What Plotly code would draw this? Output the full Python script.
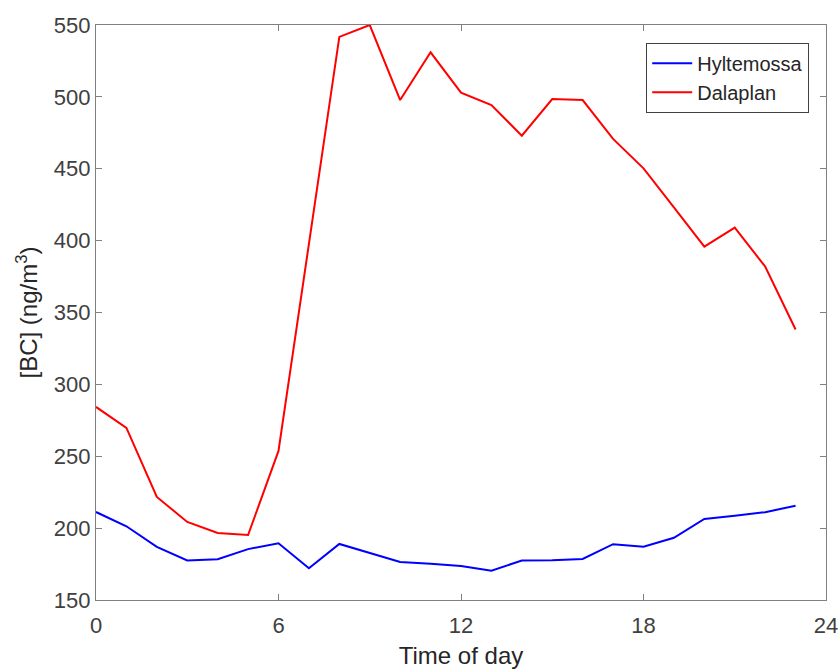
import plotly.graph_objects as go

hours = list(range(24))
hyltemossa = [211.2, 201.3, 187.0, 177.5, 178.3, 185.4, 189.5, 172.1, 189.0, 182.7,
              176.5, 175.2, 173.6, 170.3, 177.5, 177.6, 178.6, 188.8, 187.1, 193.3,
              206.4, 208.6, 211.1, 215.6]
dalaplan = [284.3, 269.7, 221.7, 204.3, 196.6, 195.2, 253.7, 398.0, 541.7, 550.0,
            497.8, 531.0, 503.0, 494.3, 473.0, 498.5, 497.8, 470.8, 450.3, 423.2,
            395.8, 409.0, 382.0, 338.2]

x_ticks = [0, 6, 12, 18, 24]
y_ticks = [150, 200, 250, 300, 350, 400, 450, 500, 550]

FONT = "Liberation Sans, Arial, sans-serif"

fig = go.Figure()
fig.add_trace(go.Scatter(x=hours, y=hyltemossa, mode="lines", name="Hyltemossa",
                         line=dict(color="#0000FF", width=2)))
fig.add_trace(go.Scatter(x=hours, y=dalaplan, mode="lines", name="Dalaplan",
                         line=dict(color="#FF0000", width=2)))

axis_common = dict(showline=True, linecolor="#808080", linewidth=1.3, mirror="ticks",
                   ticks="inside", ticklen=6, tickwidth=1, tickcolor="#808080",
                   showgrid=False, zeroline=False, automargin=False,
                   tickfont=dict(family=FONT, size=22, color="#404040"))

fig.update_xaxes(range=[0, 24], tickvals=x_ticks, ticklabelstandoff=5,
                 title=dict(text="Time of day", standoff=10,
                            font=dict(family=FONT, size=24, color="#262626")),
                 **axis_common)
fig.update_yaxes(range=[150, 550], tickvals=y_ticks,
                 title=dict(text="[BC] (ng/m<sup>3</sup>)", standoff=9,
                            font=dict(family=FONT, size=24, color="#262626")),
                 **axis_common)

fig.update_layout(
    width=839, height=669, autosize=False,
    margin=dict(l=96, r=13, t=25, b=69),
    paper_bgcolor="white", plot_bgcolor="white",
    legend=dict(x=0.977, y=0.969, xanchor="right", yanchor="top",
                bgcolor="white", bordercolor="#404040", borderwidth=1,
                font=dict(family=FONT, size=20, color="#262626"),
                tracegroupgap=0, itemwidth=40),
    showlegend=True,
)

fig.write_html("out.html")
